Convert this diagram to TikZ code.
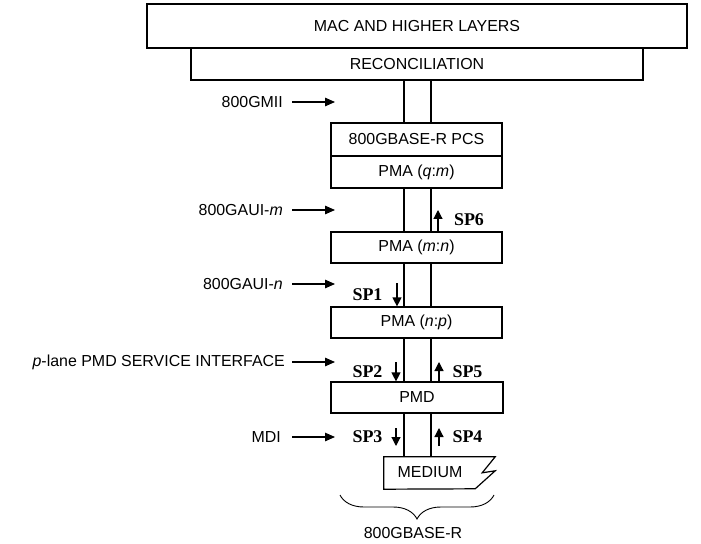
\documentclass[tikz,border=0pt]{standalone}
\usepackage{fontspec}
\setmainfont{Liberation Sans}
\newfontfamily\spfont{Liberation Serif}
\usetikzlibrary{arrows.meta,decorations.pathreplacing}
\tikzset{
  layerbox/.style={draw, line width=1.2bp, inner sep=0pt, font=\fontsize{16}{18}\selectfont},
  lbl/.style={inner sep=0pt, anchor=east, font=\fontsize{16}{18}\selectfont},
  splbl/.style={inner sep=0pt, font=\fontsize{18}{20}\selectfont\spfont\bfseries},
  bigarr/.style={line width=1.2bp, -{Triangle[length=10bp,width=8.5bp]}},
  smallarr/.style={line width=1.2bp, -{Triangle[length=9bp,width=9bp]}},
  vline/.style={line width=1.2bp}
}
\begin{document}
\begin{tikzpicture}[x=1bp,y=-1bp]
\useasboundingbox (0,0) rectangle (701,544);
% boxes
\node[layerbox, minimum width=540bp, minimum height=44bp] (mac) at (417,26) {MAC AND HIGHER LAYERS};
\node[layerbox, minimum width=452bp, minimum height=32bp] (rec) at (417,64) {RECONCILIATION};
\node[layerbox, minimum width=171bp, minimum height=33bp] (pcs) at (416.5,139.5) {800GBASE-R PCS};
\node[layerbox, minimum width=171bp, minimum height=32bp] (pmaqm) at (416.5,172) {PMA (\textit{q}:\textit{m})};
\node[layerbox, minimum width=171bp, minimum height=31bp] (pmamn) at (416.5,247.5) {PMA (\textit{m}:\textit{n})};
\node[layerbox, minimum width=171bp, minimum height=31bp] (pmanp) at (416.5,322.5) {PMA (\textit{n}:\textit{p})};
\node[layerbox, minimum width=172bp, minimum height=31bp] (pmd) at (417,397.5) {PMD};
% medium
\node[inner sep=0pt, minimum width=111bp, minimum height=32bp] (med) at (439.5,473) {};
\node[inner sep=0pt, font=\fontsize{16}{18}\selectfont] (medtxt) at (430,472.5) {MEDIUM};
\draw[line width=1.2bp, line join=miter] (med.north west) -- (med.north east) -- ++(-13,16) -- ++(13,-2) -- ++(-20,18) -- (med.south west) -- cycle;
% vertical lines
\coordinate (L) at (404,0);
\coordinate (R) at (431,0);
\foreach \a/\b in {rec/pcs, pmaqm/pmamn, pmamn/pmanp, pmanp/pmd, pmd/med}{
  \draw[vline] (\a.south -| L) -- (\b.north -| L);
  \draw[vline] (\a.south -| R) -- (\b.north -| R);
}
% interface labels
\node[lbl] (gmii) at (283,102) {800GMII};
\node[lbl] (gauim) at (283,210) {800GAUI-\textit{m}};
\node[lbl] (gauin) at (283,284) {800GAUI-\textit{n}};
\node[lbl] (pmdsi) at (285,362) {\textit{p}-lane PMD SERVICE INTERFACE};
\node[lbl] (mdi) at (281,437) {MDI};
\coordinate (t1) at (335,102);
\coordinate (t2) at (335,210);
\coordinate (t3) at (335,284);
\coordinate (t4) at (335,362);
\coordinate (t5) at (335,437);
\draw[bigarr] ([xshift=9bp]gmii.east) -- (t1);
\draw[bigarr] ([xshift=9bp]gauim.east) -- (t2);
\draw[bigarr] ([xshift=9bp]gauin.east) -- (t3);
\draw[bigarr] ([xshift=7bp]pmdsi.east) -- (t4);
\draw[bigarr] ([xshift=11bp]mdi.east) -- (t5);
% SP labels
\node[splbl] (sp6) at (469,220) {SP6};
\node[splbl] (sp1) at (367.5,295) {SP1};
\node[splbl] (sp2) at (367.5,372) {SP2};
\node[splbl] (sp5) at (467.5,372) {SP5};
\node[splbl] (sp3) at (367.5,437) {SP3};
\node[splbl] (sp4) at (467.5,437) {SP4};
\coordinate (sp6t) at (438,210);
\coordinate (sp1a) at (397,283);
\coordinate (sp2a) at (396,362);
\coordinate (sp5t) at (439,362);
\coordinate (sp3a) at (396,428);
\coordinate (sp3b) at (396,446);
\coordinate (sp4a) at (439,446);
\coordinate (sp4b) at (439,428);
\draw[smallarr] (pmamn.north -| sp6t) -- (sp6t);
\draw[smallarr] (sp1a) -- (pmanp.north -| sp1a);
\draw[smallarr] (sp2a) -- (pmd.north -| sp2a);
\draw[smallarr] (pmd.north -| sp5t) -- (sp5t);
\draw[smallarr] (sp3a) -- (sp3b);
\draw[smallarr] (sp4a) -- (sp4b);
% brace
\coordinate (bl) at (340,495);
\coordinate (br) at (494,495);
\draw[line width=0.9bp, decorate, decoration={brace, amplitude=24bp, mirror}] (bl) -- (br);
\node[inner sep=0pt, font=\fontsize{16}{18}\selectfont] (phy) at (413,533) {800GBASE-R};
\end{tikzpicture}
\end{document}
